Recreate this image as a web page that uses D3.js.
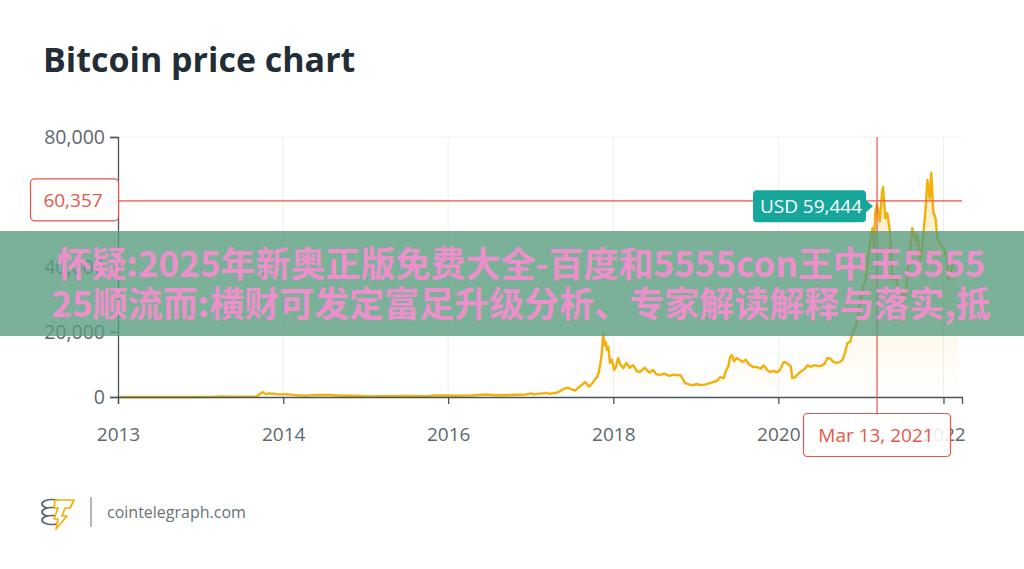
<!DOCTYPE html>
<html>
<head>
<meta charset="utf-8">
<script src="https://cdn.jsdelivr.net/npm/d3@7"></script>
<style>
  html, body { margin: 0; padding: 0; background: #ffffff; }
  svg { display: block; font-family: "Open Sans", "Noto Sans", sans-serif; }
</style>
</head>
<body>
<svg id="chart" width="1024" height="569"></svg>
<script>
// ---------------- DATA ----------------
const dates = [
  "2012-01-01","2012-04-01","2012-08-15","2012-12-01","2013-02-15","2013-04-08","2013-05-15","2013-07-05",
  "2013-08-20","2013-09-05","2013-09-20","2013-10-01","2013-10-15","2013-11-01","2013-11-20","2013-12-10",
  "2014-01-10","2014-02-25","2014-04-10","2014-06-01","2014-07-20","2014-09-20","2014-11-15","2015-01-14",
  "2015-03-01","2015-05-01","2015-07-10","2015-08-25","2015-10-01","2015-11-04","2015-12-20","2016-02-01",
  "2016-04-01","2016-06-16","2016-08-02","2016-10-01","2016-12-10","2017-01-04","2017-01-12","2017-02-20",
  "2017-03-10","2017-03-24","2017-04-25","2017-05-10","2017-05-25","2017-06-12","2017-07-15","2017-08-05",
  "2017-08-30","2017-09-14","2017-10-01","2017-10-12","2017-10-20","2017-10-28","2017-11-05","2017-11-12",
  "2017-11-17","2017-11-22","2017-11-28","2017-12-04","2017-12-10","2017-12-17","2017-12-25","2018-01-05",
  "2018-01-14","2018-01-22","2018-02-01","2018-02-14","2018-02-28","2018-03-15","2018-03-30","2018-04-15",
  "2018-04-30","2018-05-20","2018-06-10","2018-06-26","2018-07-10","2018-07-27","2018-08-15","2018-09-05",
  "2018-09-25","2018-10-10","2018-10-24","2018-11-05","2018-11-15","2018-12-01","2018-12-20","2019-01-05",
  "2019-01-20","2019-02-10","2019-03-01","2019-03-18","2019-04-05","2019-04-18","2019-05-05","2019-05-15",
  "2019-05-25","2019-06-02","2019-06-10","2019-06-20","2019-07-01","2019-07-15","2019-07-29","2019-08-10",
  "2019-08-25","2019-09-12","2019-09-29","2019-10-15","2019-10-28","2019-11-13","2019-11-26","2019-12-10",
  "2019-12-28","2020-01-10","2020-01-22","2020-01-31","2020-02-15","2020-02-25","2020-03-03","2020-03-15",
  "2020-03-25","2020-04-08","2020-04-25","2020-05-10","2020-05-22","2020-06-10","2020-06-28","2020-07-10",
  "2020-07-25","2020-08-05","2020-08-18","2020-09-01","2020-09-15","2020-10-01","2020-10-11","2020-10-22",
  "2020-11-02","2020-11-15","2020-11-24","2020-12-08","2020-12-20","2020-12-30","2021-01-10","2021-01-21",
  "2021-02-03","2021-02-14","2021-02-21","2021-02-28","2021-03-05","2021-03-13","2021-03-25","2021-04-04",
  "2021-04-09","2021-04-18","2021-04-27","2021-05-10","2021-05-20","2021-06-02","2021-06-24","2021-07-16",
  "2021-07-29","2021-08-16","2021-08-30","2021-09-06","2021-09-21","2021-10-01","2021-10-13","2021-10-22",
  "2021-11-01","2021-11-08","2021-11-17","2021-11-27","2021-12-05","2021-12-18","2022-01-01","2022-01-18",
  "2022-01-24","2022-02-14","2022-03-07"
];
const prices = [
  5,5,11,13,30,200,120,70,
  110,130,900,1500,900,1100,1000,800,
  900,560,420,640,600,400,380,180,
  260,230,290,210,240,450,440,370,
  420,760,540,610,770,1100,800,1100,
  1250,950,1300,1800,2400,2900,1950,3200,
  4600,3200,4300,5500,6000,7400,10500,14000,
  19700,16000,17000,14500,15500,10500,11500,8300,
  9500,12000,10000,8900,10500,9000,9800,8000,
  7700,9000,7500,8300,7000,6800,7200,6500,
  6900,6700,6800,5500,4300,3900,3600,4000,
  3700,3800,4200,4600,5000,6100,5800,8200,
  9500,12300,12900,11000,12000,11400,10800,11500,
  10000,9200,9200,8700,9800,8300,7700,8000,
  7600,8500,10500,10800,10000,9500,5800,6000,
  6900,7700,8500,9800,9300,9800,9500,9600,
  10300,12000,11800,10800,10500,10800,11400,13500,
  16600,17000,19700,21500,25000,29800,34000,36000,
  44000,49000,52000,46000,56600,59444,54000,62800,
  64600,55000,56600,50500,36000,37000,32000,31000,
  40000,52000,48000,50000,42000,48000,57000,66800,
  61000,69000,57000,55000,49000,47000,46000,42000,
  36000,42000,41000
];
const yTicks = [0, 20000, 40000, 60000, 80000];
const yTickLabels = ["0", "20,000", "40,000", "", "80,000"];
const xTickDates = ["2012-01-01","2014-01-01","2016-01-01","2018-01-01","2020-01-01","2022-01-01"];
const xTickLabels = ["2013","2014","2016","2018","2020","2022"];
const markerDate = "2021-03-13";
const markerDateLabel = "Mar 13, 2021";
const markerPrice = 59444;
const levelPrice = 60357;
const titleText = "Bitcoin price chart";
const sourceText = "cointelegraph.com";
const bannerLines = [
  "怀疑:2025年新奥正版免费大全-百度和5555con王中王5555",
  "25顺流而:横财可发定富足升级分析、专家解读解释与落实,抵"
];

// ---------------- SETUP ----------------
const parse = d3.timeParse("%Y-%m-%d");
const data = dates.map((d, i) => ({ date: parse(d), value: prices[i] }));
const svg = d3.select("#chart");
const W = 1024, H = 569;
const L = 118, R = 962, T = 137, B = 397;

const x = d3.scaleTime().domain([parse("2012-01-01"), parse("2022-03-24")]).range([L, R]);
const y = d3.scaleLinear().domain([0, 80000]).range([B, T]);
const fmt = d3.format(",");

const lineColor = "#f2b009";
const red = "#e8564a";
const axisColor = "#46555c";
const labelColor = "#5d676d";
const fs = 19;

// title
svg.append("text").attr("x", 43).attr("y", 72)
  .attr("font-size", 34).attr("font-weight", 700).attr("fill", "#222d36")
  .text(titleText);

// gridlines
const grid = svg.append("g");
grid.selectAll("line.v").data(xTickDates.slice(1)).join("line")
  .attr("x1", d => x(parse(d))).attr("x2", d => x(parse(d)))
  .attr("y1", T).attr("y2", B).attr("stroke", "#ebeeef").attr("stroke-width", 1);
grid.selectAll("line.h").data(yTicks.slice(1)).join("line")
  .attr("x1", L).attr("x2", R).attr("y1", d => y(d)).attr("y2", d => y(d))
  .attr("stroke", "#f0f2f3").attr("stroke-width", 1);

// area gradient
const defs = svg.append("defs");
const grad = defs.append("linearGradient").attr("id", "ag")
  .attr("gradientUnits", "userSpaceOnUse").attr("x1", 0).attr("y1", T).attr("x2", 0).attr("y2", B);
grad.append("stop").attr("offset", "0%").attr("stop-color", "#f7b21a").attr("stop-opacity", 0.32);
grad.append("stop").attr("offset", "100%").attr("stop-color", "#f7b21a").attr("stop-opacity", 0.0);

svg.append("path").datum(data)
  .attr("d", d3.area().x(d => x(d.date)).y0(B).y1(d => y(d.value)))
  .attr("fill", "url(#ag)");

svg.append("path").datum(data)
  .attr("d", d3.line().x(d => x(d.date)).y(d => y(d.value)))
  .attr("fill", "none").attr("stroke", lineColor).attr("stroke-width", 2.4)
  .attr("stroke-linejoin", "round");

// axes
const yAxis = svg.append("g").attr("transform", `translate(${L},0)`)
  .call(d3.axisLeft(y).tickValues(yTicks).tickFormat((d, i) => yTickLabels[i]).tickSize(8).tickPadding(5));
const xAxis = svg.append("g").attr("transform", `translate(0,${B})`)
  .call(d3.axisBottom(x).tickValues(xTickDates.map(parse))
    .tickFormat((d, i) => xTickLabels[i]).tickSize(7).tickPadding(24));
[yAxis, xAxis].forEach(a => {
  a.selectAll("path,line").attr("stroke", axisColor).attr("stroke-width", 1.3);
  a.selectAll("text").attr("fill", labelColor).attr("font-size", fs)
    .attr("font-family", "'Open Sans', sans-serif");
});
yAxis.selectAll("text").attr("font-size", 19.5);

// level line 60,357
svg.append("line").attr("x1", L).attr("x2", R).attr("y1", y(levelPrice)).attr("y2", y(levelPrice))
  .attr("stroke", red).attr("stroke-width", 1.2);
// crosshair
const mx = x(parse(markerDate));
svg.append("line").attr("x1", mx).attr("x2", mx).attr("y1", T).attr("y2", 413)
  .attr("stroke", red).attr("stroke-width", 1.2);

// level label box
const ly = y(levelPrice);
svg.append("rect").attr("x", 30.5).attr("y", ly - 22).attr("width", 88).attr("height", 42)
  .attr("rx", 4).attr("fill", "#ffffff").attr("fill-opacity", 0.92).attr("stroke", red).attr("stroke-width", 1.2);
svg.append("text").attr("x", 73).attr("y", ly + 6).attr("text-anchor", "middle")
  .attr("font-size", fs).attr("fill", red).text(fmt(levelPrice));

// date label box
svg.append("rect").attr("x", 803.5).attr("y", 413.5).attr("width", 147).attr("height", 43)
  .attr("rx", 4).attr("fill", "#ffffff").attr("fill-opacity", 0.88).attr("stroke", red).attr("stroke-width", 1.2);
svg.append("text").attr("x", 876).attr("y", 442).attr("text-anchor", "middle")
  .attr("font-size", fs).attr("fill", red).text(markerDateLabel);

// tooltip
const ty = y(markerPrice) + 2.5;
const tip = svg.append("g");
tip.append("path")
  .attr("d", `M757,${ty-16} H862 Q866,${ty-16} 866,${ty-12} V${ty-6} L873,${ty} L866,${ty+6} V${ty+12} Q866,${ty+16} 862,${ty+16} H757 Q753,${ty+16} 753,${ty+12} V${ty-12} Q753,${ty-16} 757,${ty-16} Z`)
  .attr("fill", "#17a69c");
tip.append("text").attr("x", 811).attr("y", ty + 7).attr("text-anchor", "middle")
  .attr("font-size", fs).attr("fill", "#ffffff").text("USD " + fmt(markerPrice));

// footer logo
const logo = svg.append("g").attr("transform", "translate(41,496)");
[0, 8, 16].forEach(dy => {
  logo.append("ellipse").attr("cx", 11).attr("cy", 8 + dy).attr("rx", 10).attr("ry", 4.5)
    .attr("fill", "#ffffff").attr("stroke", "#56616a").attr("stroke-width", 1.7);
});
logo.append("path").attr("d", "M14,4 H33 L29,12 H24 L21,20 L26,20 L15,33 L17,23 L13,23 L17,12 H13 Z")
  .attr("fill", "#ffffff").attr("stroke", "#f2b009").attr("stroke-width", 1.7).attr("stroke-linejoin", "round");
svg.append("line").attr("x1", 91).attr("x2", 91).attr("y1", 497).attr("y2", 527)
  .attr("stroke", "#8a9196").attr("stroke-width", 1.3);
svg.append("text").attr("x", 107).attr("y", 518).attr("font-size", 16).attr("fill", "#6a7277")
  .text(sourceText);

// overlay banner
svg.append("rect").attr("x", 0).attr("y", 231).attr("width", W).attr("height", 105)
  .attr("fill", "#5a9e80").attr("fill-opacity", 0.8);
svg.selectAll("text.banner").data(bannerLines).join("text")
  .attr("class", "banner")
  .attr("x", W / 2 + 9).attr("y", (d, i) => 277 + i * 40).attr("text-anchor", "middle")
  .attr("font-family", "'Noto Sans CJK SC', 'Noto Sans', sans-serif")
  .attr("font-size", 35).attr("font-weight", 700).attr("fill", "#ec8fca")
  .text(d => d);
</script>
</body>
</html>
